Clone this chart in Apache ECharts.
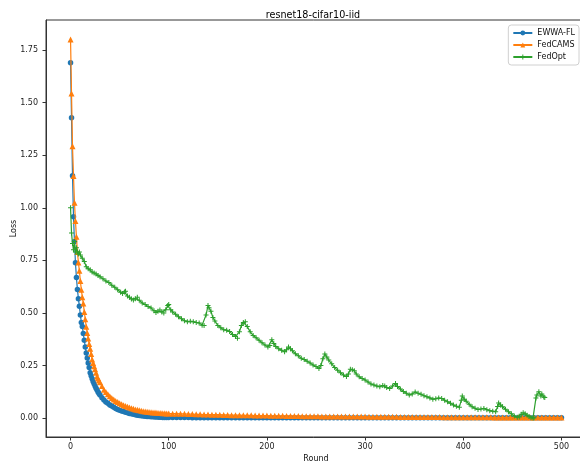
<!DOCTYPE html>
<html>
<head>
<meta charset="utf-8">
<title>resnet18-cifar10-iid</title>
<script src="https://cdn.jsdelivr.net/npm/echarts@6/dist/echarts.min.js"></script>
<style>
  html, body { margin: 0; padding: 0; background: #fff; }
  #main { width: 580px; height: 468px; }
</style>
</head>
<body>
<div id="main"></div>
<script>
// tick labels
var xTicks = [0, 100, 200, 300, 400, 500];
var yTicks = [0, 0.25, 0.5, 0.75, 1.0, 1.25, 1.5, 1.75];

// rounds shared by EWWA-FL and FedCAMS
var rounds = [
  0, 1, 2, 3, 4, 5, 6, 7, 8, 9,
  10, 11, 12, 13, 14, 15, 16, 17, 18, 19,
  20, 21, 22, 23, 24, 25, 26, 27, 28, 29,
  30, 32, 34, 36, 38, 40, 42, 44, 46, 48,
  50, 52, 54, 56, 58, 60, 62, 64, 66, 68,
  70, 72, 74, 76, 78, 80, 82, 84, 86, 88,
  90, 92, 94, 96, 98, 100,
  104, 108, 112, 116, 120, 124, 128, 132, 136, 140,
  144, 148, 152, 156, 160, 164, 168, 172, 176, 180,
  184, 188, 192, 196, 200, 204, 208, 212, 216, 220,
  224, 228, 232, 236, 240, 244, 248, 252, 256, 260,
  264, 268, 272, 276, 280, 284, 288, 292, 296, 300,
  304, 308, 312, 316, 320, 324, 328, 332, 336, 340,
  344, 348, 352, 356, 360, 364, 368, 372, 376, 380,
  384, 388, 392, 396, 400, 404, 408, 412, 416, 420,
  424, 428, 432, 436, 440, 444, 448, 452, 456, 460,
  464, 468, 472, 476, 480, 484, 488, 492, 496, 500
];

// EWWA-FL
var ewwaLoss = [
  1.690, 1.428, 1.152, 0.957, 0.840, 0.739, 0.668, 0.612, 0.568, 0.532,
  0.490, 0.455, 0.435, 0.402, 0.370, 0.338, 0.310, 0.286, 0.262, 0.240,
  0.216, 0.201, 0.187, 0.174, 0.163, 0.152, 0.142, 0.133, 0.124, 0.117,
  0.110, 0.097, 0.086, 0.077, 0.070, 0.062, 0.057, 0.051, 0.046, 0.041,
  0.037, 0.034, 0.031, 0.028, 0.025, 0.022, 0.020, 0.018, 0.016, 0.014,
  0.012, 0.011, 0.010, 0.009, 0.008, 0.007, 0.006, 0.006, 0.005, 0.005,
  0.004, 0.004, 0.003, 0.003, 0.003, 0.003,
  0.003, 0.003, 0.003, 0.003, 0.003, 0.002, 0.002, 0.002, 0.002, 0.002,
  0.002, 0.002, 0.002, 0.002, 0.002, 0.002, 0.002, 0.002, 0.002, 0.002,
  0.001, 0.001, 0.001, 0.001, 0.001, 0.001, 0.001, 0.001, 0.001, 0.001,
  0.001, 0.001, 0.001, 0.001, 0.001, 0.001, 0.001, 0.001, 0.001, 0.001,
  0.001, 0.001, 0.001, 0.001, 0.001, 0.001, 0.001, 0.001, 0.001, 0.001,
  0.001, 0.001, 0.001, 0.001, 0.001, 0.001, 0.001, 0.001, 0.001, 0.001,
  0.001, 0.001, 0.001, 0.001, 0.001, 0.001, 0.001, 0.001, 0.001, 0.001,
  0.001, 0.001, 0.001, 0.001, 0.001, 0.001, 0.001, 0.001, 0.001, 0.001,
  0.001, 0.001, 0.001, 0.001, 0.001, 0.001, 0.001, 0.001, 0.001, 0.001,
  0.001, 0.001, 0.001, 0.001, 0.001, 0.001, 0.001, 0.001, 0.001, 0.001
];

// FedCAMS
var camsLoss = [
  1.800, 1.544, 1.293, 1.151, 1.024, 0.937, 0.862, 0.790, 0.740, 0.700,
  0.652, 0.610, 0.575, 0.545, 0.505, 0.470, 0.434, 0.405, 0.378, 0.352,
  0.330, 0.305, 0.278, 0.262, 0.247, 0.232, 0.216, 0.198, 0.188, 0.179,
  0.170, 0.153, 0.135, 0.124, 0.113, 0.104, 0.096, 0.088, 0.081, 0.076,
  0.070, 0.066, 0.061, 0.057, 0.054, 0.050, 0.047, 0.044, 0.041, 0.039,
  0.037, 0.035, 0.033, 0.031, 0.030, 0.029, 0.028, 0.027, 0.026, 0.025,
  0.024, 0.024, 0.023, 0.023, 0.022, 0.022,
  0.021, 0.021, 0.020, 0.020, 0.019, 0.019, 0.018, 0.018, 0.017, 0.017,
  0.016, 0.016, 0.016, 0.015, 0.015, 0.014, 0.014, 0.014, 0.013, 0.013,
  0.013, 0.012, 0.012, 0.012, 0.012, 0.011, 0.011, 0.011, 0.011, 0.010,
  0.010, 0.010, 0.010, 0.009, 0.009, 0.009, 0.009, 0.009, 0.008, 0.008,
  0.008, 0.008, 0.008, 0.008, 0.007, 0.007, 0.007, 0.007, 0.007, 0.007,
  0.006, 0.006, 0.006, 0.006, 0.006, 0.006, 0.006, 0.006, 0.005, 0.005,
  0.005, 0.005, 0.005, 0.005, 0.005, 0.005, 0.005, 0.005, 0.005, 0.004,
  0.004, 0.004, 0.004, 0.004, 0.004, 0.004, 0.004, 0.004, 0.004, 0.004,
  0.004, 0.004, 0.003, 0.003, 0.003, 0.003, 0.003, 0.003, 0.003, 0.003,
  0.003, 0.003, 0.003, 0.003, 0.003, 0.003, 0.003, 0.003, 0.003, 0.003
];

// FedOpt
var optRounds = [
  0, 1, 2, 3, 4, 5, 6, 7, 8, 9,
  10, 12, 14, 16, 18, 20, 22, 24, 26, 28,
  30, 33, 36, 39, 42, 45, 48, 51, 53, 55,
  56, 58, 60, 62, 64, 66, 68, 70, 73, 76,
  79, 82, 85, 87, 89, 91, 93, 95, 97, 99,
  100, 102, 104, 107, 110, 113, 116, 119, 122, 125,
  128, 131, 134, 136, 138, 140, 141, 143, 145, 147,
  150, 153, 156, 159, 162, 165, 168, 170, 172, 174,
  176, 178, 180, 183, 186, 189, 192, 195, 198, 201,
  203, 205, 207, 209, 212, 215, 218, 220, 222, 224,
  226, 229, 232, 235, 238, 241, 244, 247, 250, 253,
  255, 257, 259, 261, 263, 266, 269, 272, 275, 278,
  281, 283, 285, 287, 289, 291, 294, 297, 300, 303,
  306, 309, 312, 315, 318, 320, 322, 325, 328, 331,
  333, 336, 339, 342, 345, 348, 351, 354, 357, 360,
  363, 366, 369, 372, 375, 378, 381, 384, 387, 390,
  393, 396, 398, 399, 401, 403, 406, 409, 412, 415,
  418, 421, 424, 427, 430, 433, 435, 436, 438, 440,
  443, 446, 449, 452, 455, 457, 459, 461, 463, 465,
  467, 469, 471, 472, 474, 475, 477, 479, 480, 482,
  483
];
var optLoss = [
  1.000, 0.880, 0.830, 0.800, 0.840, 0.790, 0.810, 0.790, 0.780, 0.790,
  0.775, 0.760, 0.745, 0.720, 0.710, 0.705, 0.695, 0.690, 0.685, 0.678,
  0.672, 0.662, 0.652, 0.645, 0.632, 0.622, 0.610, 0.598, 0.592, 0.600,
  0.603, 0.580, 0.574, 0.566, 0.562, 0.568, 0.575, 0.560, 0.547, 0.540,
  0.530, 0.524, 0.510, 0.502, 0.508, 0.514, 0.505, 0.500, 0.515, 0.535,
  0.540, 0.515, 0.505, 0.494, 0.482, 0.472, 0.463, 0.458, 0.460, 0.458,
  0.455, 0.452, 0.442, 0.440, 0.490, 0.535, 0.525, 0.508, 0.478, 0.462,
  0.440, 0.430, 0.420, 0.418, 0.412, 0.398, 0.388, 0.380, 0.410, 0.440,
  0.455, 0.458, 0.435, 0.410, 0.393, 0.382, 0.370, 0.358, 0.347, 0.338,
  0.345, 0.372, 0.355, 0.340, 0.330, 0.322, 0.315, 0.325, 0.338, 0.330,
  0.320, 0.306, 0.296, 0.284, 0.278, 0.270, 0.262, 0.252, 0.245, 0.236,
  0.250, 0.282, 0.305, 0.290, 0.276, 0.258, 0.240, 0.228, 0.215, 0.205,
  0.198, 0.210, 0.232, 0.230, 0.225, 0.210, 0.196, 0.188, 0.181, 0.172,
  0.162, 0.157, 0.152, 0.149, 0.155, 0.152, 0.145, 0.141, 0.152, 0.165,
  0.150, 0.138, 0.126, 0.118, 0.110, 0.115, 0.124, 0.118, 0.113, 0.106,
  0.101, 0.096, 0.090, 0.092, 0.095, 0.093, 0.085, 0.078, 0.070, 0.062,
  0.056, 0.052, 0.085, 0.105, 0.090, 0.080, 0.066, 0.054, 0.047, 0.041,
  0.043, 0.046, 0.040, 0.035, 0.033, 0.030, 0.055, 0.072, 0.062, 0.054,
  0.042, 0.030, 0.020, 0.010, 0.004, 0.005, 0.018, 0.025, 0.020, 0.014,
  0.008, 0.002, 0.000, 0.001, 0.095, 0.110, 0.125, 0.105, 0.115, 0.100,
  0.098
];

function pairs(xs, ys) {
  var out = [];
  for (var i = 0; i < xs.length && i < ys.length; i++) {
    out.push([xs[i], ys[i]]);
  }
  return out;
}

var FONT = 'DejaVu Sans';
var plusSymbol = 'path://M4,0H6V4H10V6H6V10H4V6H0V4H4Z';

var chart = echarts.init(document.getElementById('main'), null, { renderer: 'canvas' });

var option = {
  animation: false,
  backgroundColor: '#fff',
  textStyle: { fontFamily: FONT },
  title: {
    text: 'resnet18-cifar10-iid',
    left: 308,
    textAlign: 'center',
    top: 5,
    textStyle: { fontFamily: FONT, fontSize: 9.6, fontWeight: 'normal', color: '#000' }
  },
  legend: {
    orient: 'vertical',
    right: 1,
    top: 25,
    padding: [3, 4, 3, 4],
    itemGap: 2,
    itemWidth: 19,
    itemHeight: 6,
    backgroundColor: 'rgba(255,255,255,0.8)',
    borderColor: '#d0d0d0',
    borderWidth: 1,
    borderRadius: 3,
    textStyle: { fontFamily: FONT, fontSize: 8, color: '#111', lineHeight: 10 },
    data: ['EWWA-FL', 'FedCAMS', 'FedOpt']
  },
  grid: {
    left: 46,
    top: 20,
    width: 540,
    height: 417,
    show: true,
    borderColor: '#333',
    borderWidth: 1,
    containLabel: false,
    outerBoundsMode: 'none'
  },
  xAxis: {
    type: 'value',
    min: -25,
    max: 525,
    name: 'Round',
    nameLocation: 'middle',
    nameGap: 18,
    nameMoveOverlap: false,
    nameTextStyle: { fontFamily: FONT, fontSize: 8, color: '#111' },
    axisLine: { onZero: false, lineStyle: { color: '#333', width: 1 } },
    axisTick: { show: true, length: 3.5, customValues: xTicks, lineStyle: { color: '#333' } },
    axisLabel: { customValues: xTicks, margin: 6, fontSize: 8, color: '#222', fontFamily: FONT },
    splitLine: { show: false }
  },
  yAxis: {
    type: 'value',
    min: -0.09,
    max: 1.893,
    name: 'Loss',
    nameLocation: 'middle',
    nameRotate: 90,
    nameGap: 28,
    nameMoveOverlap: false,
    nameTextStyle: { fontFamily: FONT, fontSize: 8, color: '#111' },
    axisLine: { show: true, onZero: false, lineStyle: { color: '#333', width: 1 } },
    axisTick: { show: true, length: 3.5, customValues: yTicks, lineStyle: { color: '#333' } },
    axisLabel: {
      customValues: yTicks,
      margin: 8,
      fontSize: 8,
      color: '#222',
      fontFamily: FONT,
      formatter: function (v) { return v.toFixed(2); }
    },
    splitLine: { show: false }
  },
  series: [
    {
      name: 'EWWA-FL',
      type: 'line',
      data: pairs(rounds, ewwaLoss),
      symbol: 'circle',
      symbolSize: 5.5,
      showAllSymbol: true,
      color: '#1f77b4',
      lineStyle: { width: 1.2, color: '#1f77b4' },
      itemStyle: { color: '#1f77b4', borderWidth: 0 },
      z: 2
    },
    {
      name: 'FedCAMS',
      type: 'line',
      data: pairs(rounds, camsLoss),
      symbol: 'triangle',
      symbolSize: 6,
      showAllSymbol: true,
      color: '#ff7f0e',
      lineStyle: { width: 1.2, color: '#ff7f0e' },
      itemStyle: { color: '#ff7f0e', borderWidth: 0 },
      z: 3
    },
    {
      name: 'FedOpt',
      type: 'line',
      data: pairs(optRounds, optLoss),
      symbol: plusSymbol,
      symbolSize: 5,
      showAllSymbol: true,
      color: '#2ca02c',
      lineStyle: { width: 1.2, color: '#2ca02c' },
      itemStyle: { color: '#2ca02c', borderWidth: 0 },
      z: 4
    }
  ]
};

chart.setOption(option);
</script>
</body>
</html>
